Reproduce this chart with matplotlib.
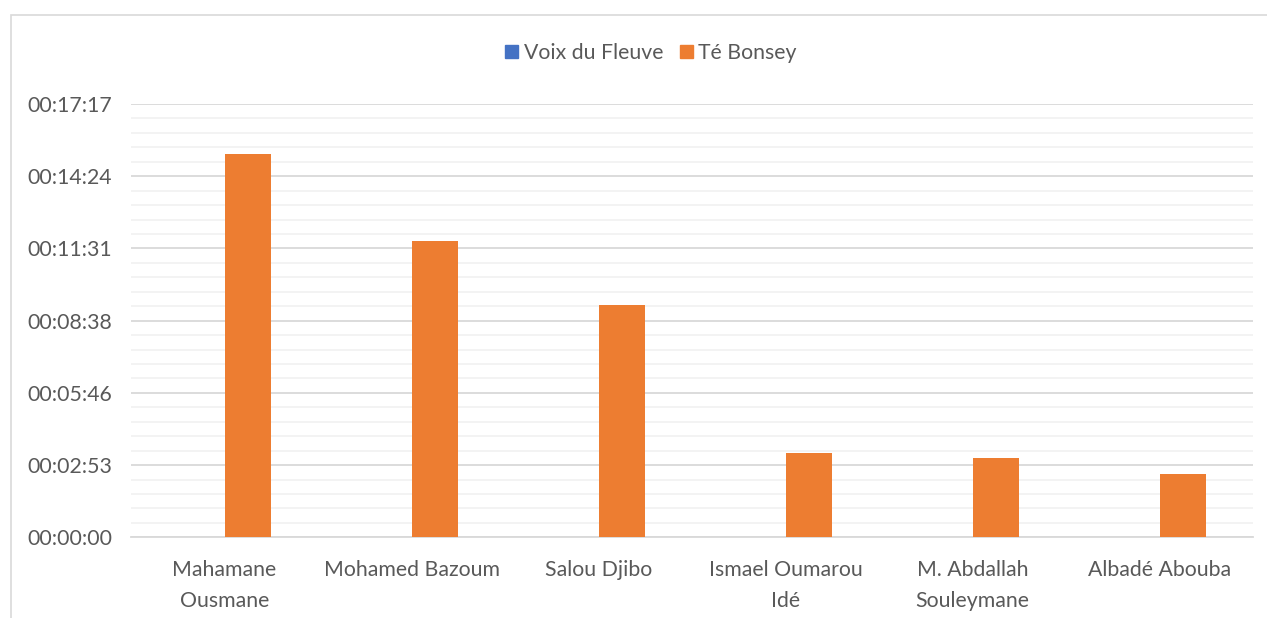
import matplotlib
matplotlib.use('Agg')
import matplotlib.pyplot as plt
from matplotlib.ticker import FuncFormatter, MultipleLocator
from matplotlib.patches import Rectangle, Patch

plt.rcParams['font.family'] = ['Lato', 'DejaVu Sans']

# data: speaking time in seconds
candidates = ['Mahamane\nOusmane', 'Mohamed Bazoum', 'Salou Djibo',
              'Ismael Oumarou\nIdé', 'M. Abdallah\nSouleymane', 'Albadé Abouba']
voix_du_fleuve = [0, 0, 0, 0, 0, 0]
te_bonsey = [917, 709, 556, 201, 190, 152]
series_names = ['Voix du Fleuve', 'Té Bonsey']

major_step = 172.8   # 0.002 day
minor_step = 34.56   # 0.0004 day

text_col = '#595959'
blue = '#4472c4'
orange = '#ed7d31'
fs = 15.3

W, H = 1267, 618
fig = plt.figure(figsize=(W / 100, H / 100), dpi=100)
ax = fig.add_axes([131 / W, 1 - 537.3 / H, (1253 - 131) / W, (537.3 - 104) / H])

# chart frame
fig.patches.append(Rectangle((11 / W, -0.1), 1.2, 1.1 - 15 / H, transform=fig.transFigure,
                             fill=False, edgecolor='#d9d9d9', linewidth=1.2))

x = range(len(candidates))
bw = 0.25
ax.bar([i - bw / 2 for i in x], voix_du_fleuve, width=bw, color=blue, zorder=3)
ax.bar([i + bw / 2 for i in x], te_bonsey, width=bw, color=orange, zorder=3)

ax.set_xlim(-0.5, len(candidates) - 0.5)
ax.set_ylim(0, major_step * 6)


def hms(v, pos=None):
    s = int(round(v))
    return f'{s // 3600:02d}:{(s % 3600) // 60:02d}:{s % 60:02d}'


ax.yaxis.set_major_locator(MultipleLocator(major_step))
ax.yaxis.set_minor_locator(MultipleLocator(minor_step))
ax.yaxis.set_major_formatter(FuncFormatter(hms))
ax.grid(axis='y', which='major', color='#d9d9d9', linewidth=1.3, zorder=0)
ax.grid(axis='y', which='minor', color='#f2f2f2', linewidth=1.3, zorder=0)
ax.set_axisbelow(True)

for side in ['top', 'right', 'left']:
    ax.spines[side].set_visible(False)
ax.spines['bottom'].set_color('#d9d9d9')
ax.spines['bottom'].set_linewidth(1.3)

ax.set_xticks(list(x))
ax.set_xticklabels(candidates, linespacing=1.7)
ax.tick_params(axis='both', which='both', length=0, colors=text_col, labelsize=fs)
ax.tick_params(axis='x', pad=16)
ax.tick_params(axis='y', pad=13.7)

handles = [Patch(color=blue), Patch(color=orange)]
fig.legend(handles, series_names, loc='center', bbox_to_anchor=(651 / W, 1 - 53 / H),
           ncol=2, frameon=False, fontsize=fs, labelcolor=text_col,
           handlelength=0.6, handleheight=0.6, handletextpad=0.25, columnspacing=0.8)

fig.savefig('out.png', dpi=100)
